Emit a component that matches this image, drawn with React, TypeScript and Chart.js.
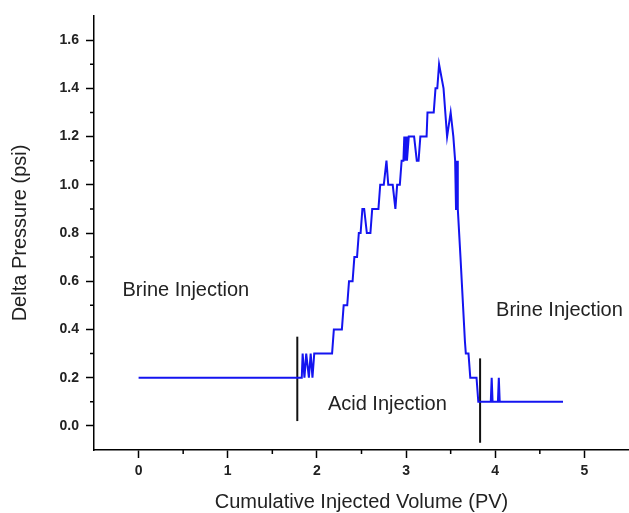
import React, { useEffect, useRef } from "react";
import { Chart, registerables } from "chart.js";

Chart.register(...registerables);

// Cumulative injected volume (PV) and delta pressure (psi)
const volumePV = [
  0, 1.83, 1.84, 1.86, 1.88, 1.91, 1.93, 1.95, 1.97, 2.17, 2.19, 2.28, 2.30, 2.34, 2.36, 2.40,
  2.42, 2.45, 2.47, 2.49, 2.51, 2.53, 2.56, 2.60, 2.62, 2.69, 2.71, 2.75, 2.78, 2.80, 2.85, 2.88,
  2.90, 2.93, 2.95, 2.97, 2.98, 2.99, 3.00, 3.01, 3.03, 3.09, 3.12, 3.14, 3.16, 3.23, 3.24, 3.31,
  3.33, 3.35, 3.37, 3.42, 3.46, 3.50, 3.53, 3.55, 3.56, 3.565, 3.57, 3.575, 3.58, 3.61, 3.66, 3.67,
  3.70, 3.72, 3.79, 3.81, 3.95, 3.96, 3.97, 4.03, 4.04, 4.05, 4.76,
];
const deltaPsi = [
  0.2, 0.2, 0.3, 0.2, 0.3, 0.2, 0.3, 0.2, 0.3, 0.3, 0.4, 0.4, 0.5, 0.5, 0.6, 0.6,
  0.7, 0.7, 0.8, 0.8, 0.9, 0.9, 0.8, 0.8, 0.9, 0.9, 1.0, 1.0, 1.1, 1.0, 1.0, 0.9,
  1.0, 1.0, 1.1, 1.1, 1.2, 1.1, 1.2, 1.1, 1.2, 1.2, 1.1, 1.1, 1.2, 1.2, 1.3, 1.3,
  1.4, 1.4, 1.5, 1.4, 1.2, 1.3, 1.2, 1.1, 0.9, 1.1, 0.9, 1.1, 0.9, 0.7, 0.35, 0.3,
  0.3, 0.2, 0.2, 0.1, 0.1, 0.2, 0.1, 0.1, 0.2, 0.1, 0.1,
];

// Vertical phase-boundary markers
const marker1X = [1.78, 1.78];
const marker1Y = [0.02, 0.37];
const marker2X = [3.83, 3.83];
const marker2Y = [-0.07, 0.28];

// Axis ticks
const xTickValues = [0, 1, 2, 3, 4, 5];
const yTickValues = [0, 0.2, 0.4, 0.6, 0.8, 1.0, 1.2, 1.4, 1.6];
const xMinorTicks = [0.5, 1.5, 2.5, 3.5, 4.5];
const yMinorTicks = [0.1, 0.3, 0.5, 0.7, 0.9, 1.1, 1.3, 1.5];

// Annotation labels (data coordinates)
const annotationTexts = ["Brine Injection", "Brine Injection", "Acid Injection"];
const annotationX = [0.53, 4.72, 2.79];
const annotationY = [0.56, 0.48, 0.09];

const FONT = "'Liberation Sans', Arial, sans-serif";

const toPoints = (xs: number[], ys: number[]) => xs.map((x, i) => ({ x, y: ys[i] }));

const extrasPlugin = {
  id: "extras",
  afterDraw(chart: any) {
    const { ctx, chartArea, scales } = chart;
    const xs = scales.x;
    const ys = scales.y;
    ctx.save();
    ctx.strokeStyle = "#000";
    ctx.lineWidth = 1.5;
    ctx.beginPath();
    xMinorTicks.forEach((v) => {
      const px = xs.getPixelForValue(v);
      ctx.moveTo(px, chartArea.bottom);
      ctx.lineTo(px, chartArea.bottom + 4);
    });
    yMinorTicks.forEach((v) => {
      const py = ys.getPixelForValue(v);
      ctx.moveTo(chartArea.left - 4, py);
      ctx.lineTo(chartArea.left, py);
    });
    ctx.stroke();
    ctx.fillStyle = "#222";
    ctx.font = `20px ${FONT}`;
    ctx.textAlign = "center";
    ctx.textBaseline = "middle";
    annotationTexts.forEach((t, i) => {
      ctx.fillText(t, xs.getPixelForValue(annotationX[i]), ys.getPixelForValue(annotationY[i]));
    });
    ctx.restore();
  },
};

export default function App() {
  const canvasRef = useRef<HTMLCanvasElement | null>(null);

  useEffect(() => {
    if (!canvasRef.current) return;
    const chart = new Chart(canvasRef.current, {
      type: "scatter",
      data: {
        datasets: [
          {
            data: toPoints(volumePV, deltaPsi),
            showLine: true,
            borderColor: "#1414f0",
            borderWidth: 2,
            pointRadius: 0,
            tension: 0,
          },
          {
            data: toPoints(marker1X, marker1Y),
            showLine: true,
            borderColor: "#111",
            borderWidth: 2,
            pointRadius: 0,
          },
          {
            data: toPoints(marker2X, marker2Y),
            showLine: true,
            borderColor: "#111",
            borderWidth: 2,
            pointRadius: 0,
          },
        ],
      },
      options: {
        animation: false,
        responsive: false,
        maintainAspectRatio: false,
        layout: { padding: { top: 16, left: 0, right: 0, bottom: 0 } },
        plugins: {
          legend: { display: false },
          tooltip: { enabled: false },
        },
        scales: {
          x: {
            type: "linear",
            min: -0.5,
            max: 5.5,
            afterBuildTicks: (s: any) => {
              s.ticks = xTickValues.map((v) => ({ value: v }));
            },
            afterFit: (s: any) => {
              s.height = 63;
            },
            grid: {
              drawOnChartArea: false,
              drawTicks: true,
              tickLength: 8,
              tickColor: "#000",
              tickWidth: 1.5,
            },
            border: { display: true, color: "#000", width: 1.5 },
            ticks: {
              color: "#222",
              padding: 5,
              maxRotation: 0,
              font: { family: FONT, size: 14, weight: "bold" },
              callback: (v: any) => String(Math.round(Number(v))),
            },
            title: {
              display: true,
              text: "Cumulative Injected Volume (PV)",
              color: "#222",
              font: { family: FONT, size: 20, lineHeight: 1 },
              padding: { top: 0, bottom: 1 },
            },
          },
          y: {
            type: "linear",
            min: -0.1,
            max: 1.7,
            afterBuildTicks: (s: any) => {
              s.ticks = yTickValues.map((v) => ({ value: v }));
            },
            afterFit: (s: any) => {
              s.width = 94;
            },
            grid: {
              drawOnChartArea: false,
              drawTicks: true,
              tickLength: 8,
              tickColor: "#000",
              tickWidth: 1.5,
            },
            border: { display: true, color: "#000", width: 1.5 },
            ticks: {
              color: "#222",
              padding: 7,
              font: { family: FONT, size: 14, weight: "bold" },
              callback: (v: any) => Number(v).toFixed(1),
            },
            title: {
              display: true,
              text: "Delta Pressure (psi)",
              color: "#222",
              font: { family: FONT, size: 20, lineHeight: 1 },
              padding: { top: 10, bottom: 0 },
            },
          },
        },
      },
      plugins: [extrasPlugin],
    } as any);
    return () => chart.destroy();
  }, []);

  return (
    <div style={{ position: "fixed", left: 0, top: 0, width: 629, height: 513, background: "#fff" }}>
      <canvas ref={canvasRef} width={629} height={513} />
    </div>
  );
}
